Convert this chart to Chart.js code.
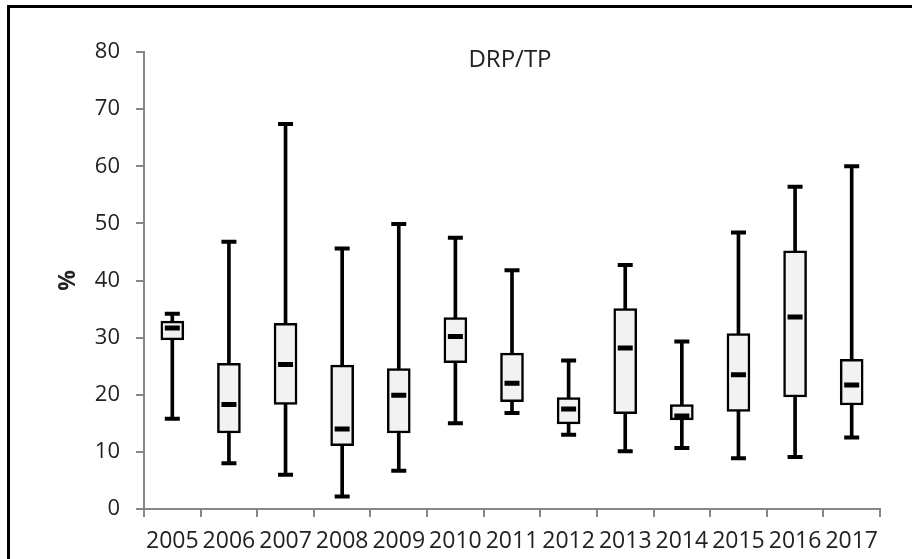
<!DOCTYPE html>
<html>
<head>
<meta charset="utf-8">
<script src="https://cdn.jsdelivr.net/npm/chart.js@4.4.1/dist/chart.umd.min.js"></script>
<style>
  html, body { margin: 0; padding: 0; background: #fff; overflow: hidden; }
  #wrap { position: relative; width: 912px; height: 559px; }
  #frame {
    position: absolute; left: 7px; top: 5px; width: 2000px; height: 2000px;
    border-top: 3px solid #000; border-left: 3px solid #000; pointer-events: none;
  }
</style>
</head>
<body>
<div id="wrap">
  <canvas id="chart" width="912" height="559"></canvas>
  <div id="frame"></div>
</div>
<script>
// years on the x axis
const years = ["2005", "2006", "2007", "2008", "2009", "2010", "2011",
  "2012", "2013", "2014", "2015", "2016", "2017"];

// box plot statistics per year (DRP/TP, %)
const minVals = [15.8, 8.0, 6.0, 2.2, 6.7, 15.0, 16.8, 13.0, 10.1, 10.7, 8.9, 9.1, 12.5];
const q1Vals = [29.6, 13.3, 18.3, 11.1, 13.3, 25.6, 18.8, 14.9, 16.7, 15.6, 17.1, 19.6, 18.2];
const medianVals = [31.7, 18.3, 25.3, 14.0, 19.9, 30.2, 22.0, 17.5, 28.2, 16.3, 23.5, 33.6, 21.7];
const q3Vals = [32.9, 25.5, 32.5, 25.2, 24.6, 33.5, 27.3, 19.5, 35.1, 18.3, 30.7, 45.2, 26.2];
const maxVals = [34.2, 46.8, 67.4, 45.6, 49.9, 47.5, 41.8, 26.0, 42.7, 29.3, 48.4, 56.4, 60.0];

const yTicks = { min: 0, max: 80, step: 10 };
const chartTitle = "DRP/TP";

const axisGray = "#868686";
const textColor = "#222";
const fontFamily = "'Open Sans', sans-serif";

// title sits inside the plot area, so draw it by hand
const innerTitle = {
  id: "innerTitle",
  afterDraw(chart) {
    const { ctx, chartArea } = chart;
    ctx.save();
    ctx.font = "24px " + fontFamily;
    ctx.fillStyle = textColor;
    ctx.textAlign = "center";
    ctx.textBaseline = "middle";
    ctx.fillText(chartTitle, (chartArea.left + chartArea.right) / 2 - 2, chartArea.top + 8);
    ctx.restore();
  },
};

const pointMark = (data, radius, width) => ({
  type: "line",
  data: data,
  showLine: false,
  pointStyle: "line",
  pointRadius: radius,
  pointHoverRadius: radius,
  borderWidth: width,
  pointBorderWidth: width,
  borderColor: "#000",
  backgroundColor: "#000",
});

const ctx = document.querySelector("#chart").getContext("2d");

new Chart(ctx, {
  type: "bar",
  data: {
    labels: years,
    datasets: [
      // medians
      pointMark(medianVals, 7.5, 5),
      // whisker caps
      pointMark(maxVals, 7.5, 4),
      pointMark(minVals, 7.5, 4),
      // boxes q1..q3
      {
        type: "bar",
        data: years.map((y, i) => [q1Vals[i], q3Vals[i]]),
        backgroundColor: "#f2f2f2",
        borderColor: "#000",
        borderWidth: 2.5,
        borderSkipped: false,
        barThickness: 23,
        grouped: false,
      },
      // whiskers min..max
      {
        type: "bar",
        data: years.map((y, i) => [minVals[i], maxVals[i]]),
        backgroundColor: "#000",
        borderWidth: 0,
        barThickness: 3,
        grouped: false,
      },
    ],
  },
  options: {
    responsive: false,
    animation: false,
    layout: { padding: { top: 52, right: 32, bottom: 0, left: 0 } },
    plugins: {
      legend: { display: false },
      tooltip: { enabled: false },
    },
    scales: {
      x: {
        offset: true,
        grid: {
          offset: true,
          drawOnChartArea: false,
          tickLength: 8,
          color: axisGray,
          lineWidth: 2,
        },
        border: { color: axisGray, width: 2 },
        ticks: {
          autoSkip: false,
          maxRotation: 0,
          padding: 11,
          color: textColor,
          font: { family: fontFamily, size: 23 },
        },
        afterFit: (scale) => { scale.height = 50; },
      },
      y: {
        min: yTicks.min,
        max: yTicks.max,
        grid: {
          drawOnChartArea: false,
          tickLength: 8,
          color: axisGray,
          lineWidth: 2,
        },
        border: { color: axisGray, width: 2 },
        ticks: {
          stepSize: yTicks.step,
          padding: 16,
          color: textColor,
          font: { family: fontFamily, size: 22 },
        },
        title: {
          display: true,
          text: "%",
          color: textColor,
          font: { family: fontFamily, size: 23, weight: "bold" },
          padding: { top: 55, bottom: 0 },
        },
        afterFit: (scale) => { scale.width = 144; },
      },
    },
  },
  plugins: [innerTitle],
});
</script>
</body>
</html>
